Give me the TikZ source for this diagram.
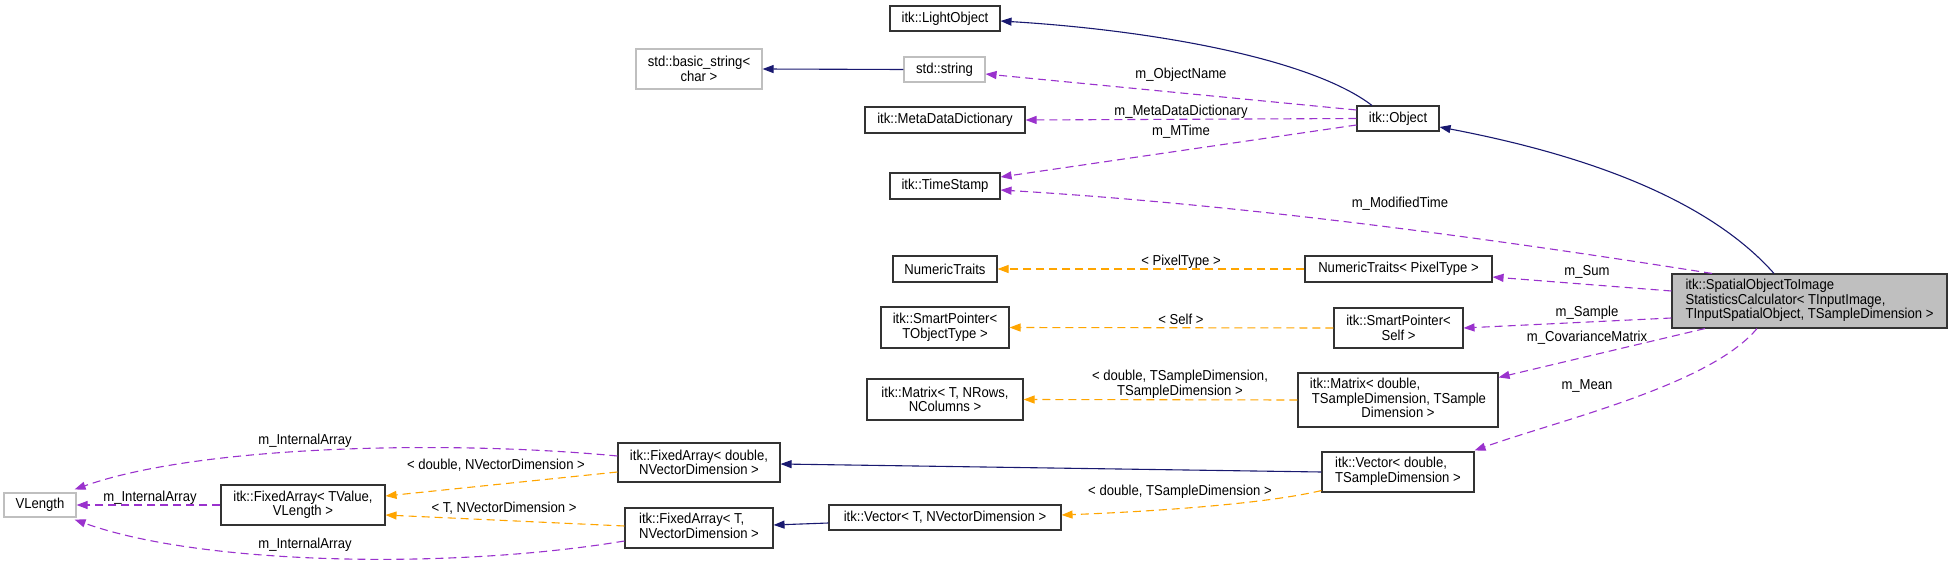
\documentclass[tikz,border=0pt]{standalone}
\usepackage{fontspec}
\setmainfont[FakeStretch=0.91]{Liberation Sans}
\usetikzlibrary{arrows.meta}
\definecolor{navyc}{HTML}{191970}
\definecolor{purplec}{HTML}{9A32CD}
\definecolor{orangec}{HTML}{FFA500}
\definecolor{graybd}{HTML}{BFBFBF}
\definecolor{mainfill}{HTML}{BFBFBF}
\newcommand{\lft}[1]{\begin{tabular}{@{}l@{}}#1\end{tabular}}
\newcommand{\ctr}[1]{\multicolumn{1}{@{}c@{}}{#1}}
\begin{document}
\begin{tikzpicture}[x=1pt,y=-1pt,
  font=\fontsize{14.4}{14.5}\selectfont,
  box/.style={draw=black!80, line width=1.1pt, fill=white, inner sep=0pt, align=center},
  extbox/.style={box, draw=graybd},
  lbl/.style={inner sep=0pt, text height=10.5pt, text depth=2.5pt},
  lblm/.style={inner sep=0pt, align=center},
  tip/.style={-{Triangle[length=11pt,width=8pt]}},
  inh/.style={draw=navyc, line width=1.1pt, tip, navyc},
  use/.style={draw=purplec, line width=1.1pt, dash pattern=on 8pt off 5pt, tip, purplec},
  tmpl/.style={draw=orangec, line width=1.1pt, dash pattern=on 8pt off 5pt, tip, orangec}]
\useasboundingbox (0,0) rectangle (1952,567);

% nodes
\node[box, minimum width=110pt, minimum height=25pt] (light) at (945,18.5) {itk::LightObject};
\node[extbox, minimum width=126pt, minimum height=40pt] (bstr) at (699,69) {std::basic\_string<\\char >};
\node[extbox, minimum width=81pt, minimum height=25pt] (str) at (944.5,69.5) {std::string};
\node[box, minimum width=160pt, minimum height=26pt] (mdd) at (945,120) {itk::MetaDataDictionary};
\node[box, minimum width=82pt, minimum height=25pt] (obj) at (1398,118.5) {itk::Object};
\node[box, minimum width=110pt, minimum height=26pt] (ts) at (945,186) {itk::TimeStamp};
\node[box, minimum width=104pt, minimum height=26pt] (nt) at (945,269) {NumericTraits};
\node[box, minimum width=187pt, minimum height=26pt] (ntp) at (1398.5,269) {NumericTraits< PixelType >};
\node[box, minimum width=128pt, minimum height=41pt] (spt) at (945,327.5) {itk::SmartPointer<\\TObjectType >};
\node[box, minimum width=129pt, minimum height=40pt] (sps) at (1398.5,328) {itk::SmartPointer<\\Self >};
\node[box, minimum width=156pt, minimum height=41pt] (mt) at (945,399.5) {itk::Matrix< T, NRows,\\NColumns >};
\node[box, minimum width=200pt, minimum height=54pt] (md) at (1398,400) {\lft{itk::Matrix< double,\\\hspace*{2pt}TSampleDimension, TSample\\\ctr{Dimension >}}};
\node[box, minimum width=152pt, minimum height=40pt] (vd) at (1398,472) {\lft{itk::Vector< double,\\\ctr{TSampleDimension >}}};
\node[box, minimum width=162pt, minimum height=39pt] (fad) at (699,462.5) {itk::FixedArray< double,\\NVectorDimension >};
\node[box, minimum width=164pt, minimum height=40pt] (fav) at (303,505) {itk::FixedArray< TValue,\\VLength >};
\node[extbox, minimum width=72pt, minimum height=24pt] (vl) at (40,505) {VLength};
\node[box, minimum width=232pt, minimum height=25pt] (vt) at (945,517.5) {itk::Vector< T, NVectorDimension >};
\node[box, minimum width=148pt, minimum height=40pt] (fat) at (699,528) {\lft{itk::FixedArray< T,\\\ctr{NVectorDimension >}}};
\node[box, fill=mainfill, minimum width=275pt, minimum height=54pt] (main) at (1809.5,301) {\lft{itk::SpatialObjectToImage\\StatisticsCalculator< TInputImage,\\\ctr{TInputSpatialObject, TSampleDimension >}}};

% labels
\node[lbl] (l1) at (1181,75) {m\_ObjectName};
\node[lbl] (l2) at (1181,112) {m\_MetaDataDictionary};
\node[lbl] (l3) at (1181,132) {m\_MTime};
\node[lbl] (l4) at (1400,203) {m\_ModifiedTime};
\node[lbl] (l5) at (1587,271) {m\_Sum};
\node[lbl] (l6) at (1587,312) {m\_Sample};
\node[lbl] (l7) at (1587,337) {m\_CovarianceMatrix};
\node[lbl] (l8) at (1587,385) {m\_Mean};
\node[lbl] (l9) at (1181,261) {< PixelType >};
\node[lbl] (l10) at (1181,320) {< Self >};
\node[lblm] (l11) at (1180,384.5) {< double, TSampleDimension,\\TSampleDimension >};
\node[lbl] (l12) at (1180,491) {< double, TSampleDimension >};
\node[lbl] (l13) at (496,465) {< double, NVectorDimension >};
\node[lbl] (l14) at (504,508) {< T, NVectorDimension >};
\node[lbl] (l15) at (305,440) {m\_InternalArray};
\node[lbl] (l16) at (150,497) {m\_InternalArray};
\node[lbl] (l17) at (305,544) {m\_InternalArray};

% inheritance (navy)
\draw[inh] ([xshift=-26pt]obj.north) .. controls (1310,58) and (1150,30) .. ([yshift=-2.5pt]light.east);
\draw[inh] (str.west) -- (bstr.east);
\draw[inh] ([xshift=-35.5pt]main.north) .. controls (1700,190) and (1560,150) .. ([yshift=-8.5pt]obj.east);
\draw[inh] (vd.west) -- ([yshift=-1.5pt]fad.east);
\draw[inh] ([yshift=-5.5pt]vt.west) -- ([yshift=3pt]fat.east);

% usage (purple)
\draw[use] ([yshift=8.5pt]obj.west) -- ([yshift=-4.5pt]str.east);
\draw[use] (obj.west) -- (mdd.east);
\draw[use] ([yshift=-6.5pt]obj.west) -- ([yshift=9pt]ts.east);
\draw[use] ([xshift=-97.5pt]main.north) .. controls (1500,240) and (1250,205) .. ([yshift=-4pt]ts.east);
\draw[use] ([yshift=10pt]main.west) -- ([yshift=-8pt]ntp.east);
\draw[use] ([yshift=-17pt]main.west) -- (sps.east);
\draw[use] ([xshift=-104.5pt]main.south) -- ([yshift=-5pt]md.north east);
\draw[use] ([xshift=-52.5pt]main.south) .. controls (1710,385) and (1560,420) .. ([yshift=1pt]vd.north east);
\draw[use] ([yshift=6.5pt]fad.west) .. controls (450,440) and (200,445) .. ([xshift=-2pt,yshift=3pt]vl.north east);
\draw[use] (fav.west) -- (vl.east);
\draw[use] ([yshift=-13pt]fat.west) .. controls (450,570) and (200,565) .. ([xshift=-2pt,yshift=-2pt]vl.south east);

% template (orange)
\draw[tmpl] (ntp.west) -- (nt.east);
\draw[tmpl] (sps.west) -- (spt.east);
\draw[tmpl] (md.west) -- (mt.east);
\draw[tmpl] ([yshift=2pt]vd.south west) .. controls (1260,505) and (1140,512) .. ([yshift=2.5pt]vt.east);
\draw[tmpl] ([yshift=-9.5pt]fad.west) -- ([yshift=9pt]fav.east);
\draw[tmpl] ([yshift=2pt]fat.west) -- ([yshift=-10pt]fav.east);
\end{tikzpicture}
\end{document}
